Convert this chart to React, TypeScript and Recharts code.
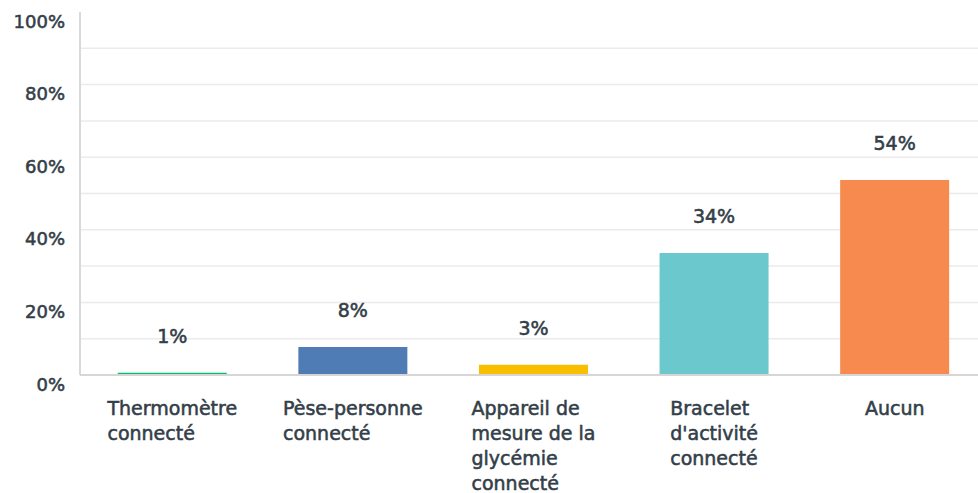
import { BarChart, Bar, XAxis, YAxis, CartesianGrid, Cell, LabelList } from 'recharts';

// Objets connectés utilisés (% des répondants)
const categories = [
  'Thermomètre\nconnecté',
  'Pèse-personne\nconnecté',
  'Appareil de\nmesure de la\nglycémie\nconnecté',
  "Bracelet\nd'activité\nconnecté",
  'Aucun',
];
const values = [0.6, 7.7, 2.8, 33.6, 53.7];
const colors = ['#00bf6f', '#507cb6', '#f9be00', '#6bc8cd', '#f78b4f'];
const yTicks = [0, 20, 40, 60, 80, 100];
const gridValues = [10, 20, 30, 40, 50, 60, 70, 80, 90];

const FONT = '"DejaVu Sans", sans-serif';
const TEXT = '#333e48';
// DejaVu only ships book/bold: a thin outline gives a medium weight
const heavy = { stroke: TEXT, strokeWidth: 0.55, paintOrder: 'stroke' as const };

const data = categories.map((name, i) => ({ name, value: values[i] }));

let ctx: CanvasRenderingContext2D | null = null;
function measure(s: string, size: number) {
  if (!ctx) ctx = document.createElement('canvas').getContext('2d');
  if (!ctx) return s.length * size * 0.6;
  ctx.font = `${size}px "DejaVu Sans"`;
  return ctx.measureText(s).width;
}

function XTick(props: any) {
  const { x, y, payload } = props;
  const lines = String(payload.value).split('\n');
  const w = Math.max(...lines.map((l) => measure(l, 19)));
  const left = x - w / 2;
  return (
    <text x={left} y={y + 33} fill={TEXT} {...heavy} fontSize={19} fontFamily={FONT} textAnchor="start" dominantBaseline="central">
      {lines.map((l, i) => (
        <tspan key={i} x={left} dy={i === 0 ? 0 : 25}>
          {l}
        </tspan>
      ))}
    </text>
  );
}

function YTick(props: any) {
  const { x, y, payload } = props;
  return (
    <text x={x - 15} y={y + 9} fill={TEXT} {...heavy} fontSize={18} fontFamily={FONT} textAnchor="end" dominantBaseline="central">
      {payload.value}%
    </text>
  );
}

function ValueLabel(props: any) {
  const { x, y, width, value } = props;
  return (
    <text x={x + width / 2} y={y - 37} fill={TEXT} {...heavy} fontSize={19} fontFamily={FONT} textAnchor="middle" dominantBaseline="central">
      {Math.round(value)}%
    </text>
  );
}

export default function App() {
  return (
    <div style={{ position: 'absolute', left: 0, top: 0, width: 978, height: 493, overflow: 'hidden', background: '#fff' }}>
      <BarChart width={985} height={493} data={data} margin={{ top: 12, right: 0, bottom: 0, left: 0 }} barCategoryGap="19.8%">
        <CartesianGrid horizontal vertical={false} horizontalValues={gridValues} stroke="#ebebeb" strokeWidth={1.5} />
        <XAxis
          dataKey="name"
          height={118}
          padding={{ left: 2, right: 0 }}
          interval={0}
          tickLine={false}
          tickSize={0}
          tickMargin={0}
          axisLine={{ stroke: '#d6d6d6', strokeWidth: 2 }}
          tick={<XTick />}
        />
        <YAxis
          width={80}
          domain={[0, 100]}
          ticks={yTicks}
          interval={0}
          tickLine={false}
          tickSize={0}
          tickMargin={0}
          axisLine={{ stroke: '#d9d9d9', strokeWidth: 2 }}
          tick={<YTick />}
        />
        <Bar dataKey="value" isAnimationActive={false}>
          {data.map((d, i) => (
            <Cell key={d.name} fill={colors[i]} />
          ))}
          <LabelList dataKey="value" content={<ValueLabel />} />
        </Bar>
      </BarChart>
    </div>
  );
}
